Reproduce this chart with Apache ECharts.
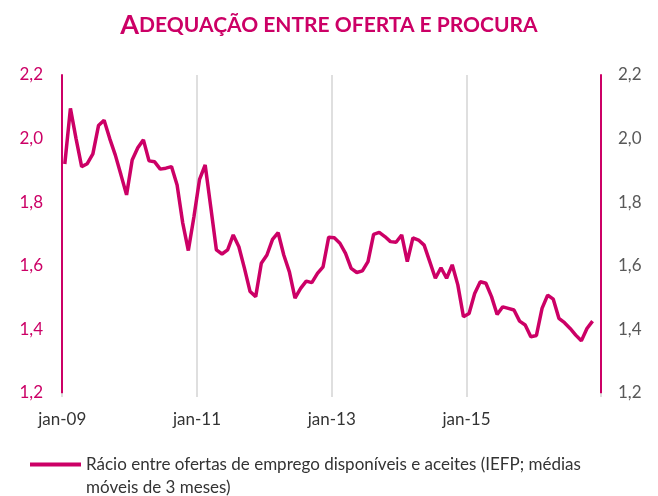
<!DOCTYPE html>
<html>
<head>
<meta charset="utf-8">
<script src="https://cdn.jsdelivr.net/npm/echarts@6/dist/echarts.min.js"></script>
<style>
  html, body { margin: 0; padding: 0; background: #fff; }
  #chart { width: 658px; height: 496px; }
</style>
</head>
<body>
<div id="chart"></div>
<script>
// meses de jan-09 a dez-16 (o último mês fica vazio)
const monthNames = ["jan", "fev", "mar", "abr", "mai", "jun", "jul", "ago", "set", "out", "nov", "dez"];
const years = ["09", "10", "11", "12", "13", "14", "15", "16"];
const categories = [];
years.forEach(y => monthNames.forEach(m => categories.push(m + "-" + y)));

const seriesName = "Rácio entre ofertas de emprego disponíveis e aceites (IEFP; médias\nmóveis de 3 meses)";

// jan-09 .. nov-16
const ratio = [
  1.92, 2.095, 2.00, 1.912, 1.921, 1.952, 2.041, 2.058, 2.00, 1.948, 1.886, 1.823,
  1.933, 1.971, 1.996, 1.930, 1.927, 1.904, 1.907, 1.912, 1.854, 1.735, 1.648, 1.754,
  1.872, 1.917, 1.784, 1.650, 1.637, 1.650, 1.697, 1.660, 1.592, 1.519, 1.503, 1.608,
  1.634, 1.683, 1.704, 1.634, 1.581, 1.498, 1.529, 1.552, 1.547, 1.576, 1.597, 1.690,
  1.688, 1.671, 1.639, 1.592, 1.579, 1.584, 1.613, 1.699, 1.705, 1.692, 1.676, 1.674,
  1.697, 1.613, 1.688, 1.681, 1.665, 1.613, 1.561, 1.594, 1.561, 1.603, 1.540, 1.440,
  1.450, 1.513, 1.550, 1.545, 1.503, 1.447, 1.471, 1.466, 1.461, 1.426, 1.414, 1.377,
  1.381, 1.466, 1.508, 1.495, 1.435, 1.421, 1.403, 1.382, 1.364, 1.403, 1.426
];

const magenta = "#cc0066";
const fontFamily = "Lato, 'Open Sans', sans-serif";
const fmt = v => v.toFixed(1).replace(".", ",");

// traço da legenda alinhado com a primeira linha do texto (os pontinhos só fixam a caixa)
const legendIcon = "path://M0,9.5H51V13.5H0Z M0,0H0.01V0.01H0Z M0,46H0.01V46.01H0Z";

const chart = echarts.init(document.getElementById("chart"));
chart.setOption({
  animation: false,
  textStyle: { fontFamily: fontFamily },
  title: {
    text: "{a|A}{b|DEQUAÇÃO ENTRE OFERTA E PROCURA}",
    left: "center",
    top: 7,
    textStyle: {
      rich: {
        a: { fontSize: 27, color: magenta, fontFamily: fontFamily },
        b: { fontSize: 21, color: magenta, fontFamily: fontFamily }
      }
    }
  },
  grid: {
    left: 62,
    right: 57,
    top: 75,
    bottom: 103
  },
  legend: {
    left: 25,
    top: 448,
    icon: legendIcon,
    itemWidth: 51,
    itemHeight: 46,
    selectedMode: false,
    textStyle: {
      fontSize: 17,
      color: "#333333",
      lineHeight: 23
    },
    data: [seriesName]
  },
  xAxis: {
    type: "category",
    boundaryGap: true,
    data: categories,
    axisLine: { show: false },
    axisTick: {
      show: true,
      interval: 23,
      length: 4,
      lineStyle: { color: "#d4d4d4", width: 1.5 }
    },
    axisLabel: {
      interval: 23,
      fontSize: 17,
      color: "#333333",
      margin: 18,
      padding: [0, 5, 0, 0]
    },
    splitLine: {
      show: true,
      interval: 23,
      lineStyle: { color: "#d4d4d4", width: 1.5 }
    }
  },
  yAxis: [
    {
      type: "value",
      min: 1.2,
      max: 2.2,
      interval: 0.2,
      position: "left",
      axisLine: { show: true, lineStyle: { color: magenta, width: 2 } },
      axisTick: { show: false },
      splitLine: { show: false },
      axisLabel: {
        fontSize: 17,
        color: magenta,
        margin: 19,
        formatter: fmt
      }
    },
    {
      type: "value",
      min: 1.2,
      max: 2.2,
      interval: 0.2,
      position: "right",
      axisLine: { show: true, lineStyle: { color: magenta, width: 2 } },
      axisTick: { show: false },
      splitLine: { show: false },
      axisLabel: {
        fontSize: 17,
        color: "#595959",
        margin: 17,
        formatter: fmt
      }
    }
  ],
  series: [
    {
      name: seriesName,
      type: "line",
      yAxisIndex: 0,
      data: ratio,
      symbol: "none",
      lineStyle: { color: magenta, width: 3.5 },
      itemStyle: { color: magenta }
    }
  ]
});
</script>
</body>
</html>
